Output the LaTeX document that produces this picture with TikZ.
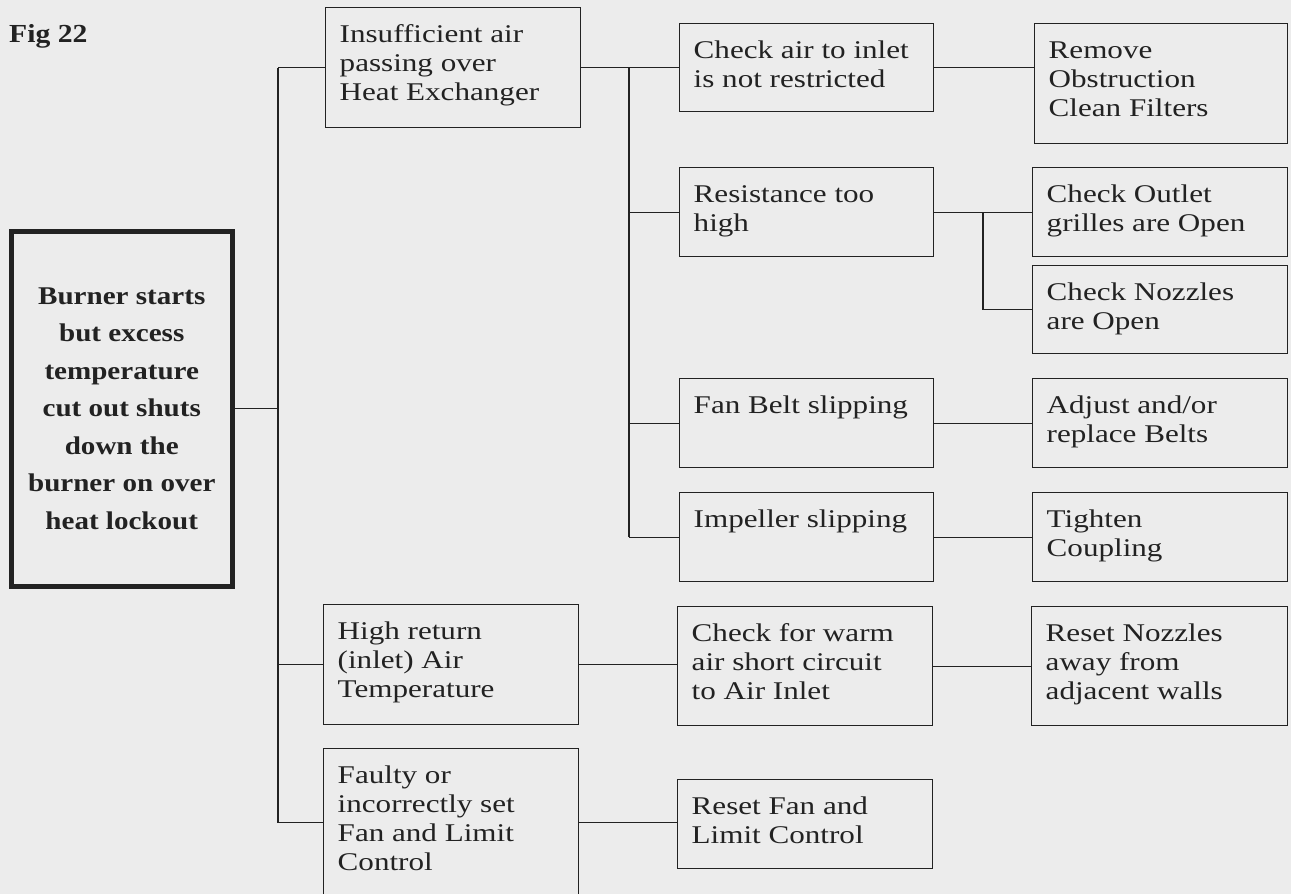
\documentclass[tikz,border=0pt]{standalone}
\usepackage{fontspec}
\setmainfont{Liberation Serif}[FakeStretch=1.22, BoldFeatures={FakeStretch=1.14}]
\definecolor{bg}{RGB}{236,236,236}
\definecolor{ink}{RGB}{34,34,34}
\newcommand\cell[3]{\parbox[c][#2][t]{#1}{\raggedright\leftskip=14pt\relax\fontsize{25.5}{29}\selectfont\vspace*{14.5pt}\strut #3\par}}
\begin{document}
\begin{tikzpicture}[x=1pt,y=-1pt,
  box/.style={draw=ink, line width=1.4pt, anchor=north west, inner sep=0pt, text=ink},
  conn/.style={draw=ink, line width=1.2pt}]
\useasboundingbox (0,0) rectangle (1291,894);
\fill[bg] (0,0) rectangle (1291,894);
\clip (0,0) rectangle (1291,894);
\node[anchor=base west, inner sep=0pt, text=ink, font=\fontsize{26}{29}\selectfont\bfseries] (fig) at (9,42) {Fig 22};
\node[box, line width=4.5pt] (main) at (9,229) {\parbox[c][355pt][c]{221pt}{\centering\fontsize{25.5}{37.5}\selectfont\bfseries Burner starts\\ but excess\\ temperature\\ cut out shuts\\ down the\\ burner on over\\ heat lockout}};
% level 1
\node[box] (ins) at (325,7) {\cell{255pt}{120pt}{Insufficient air\\passing over\\Heat Exchanger}};
\node[box] (hr) at (323,604) {\cell{255pt}{120pt}{High return\\(inlet) Air\\Temperature}};
\node[box] (fa) at (323,748) {\cell{255pt}{148pt}{Faulty or\\incorrectly set\\Fan and Limit\\Control}};
% level 2
\node[box] (ca) at (679,23) {\cell{254pt}{88pt}{Check air to inlet\\is not restricted}};
\node[box] (rs) at (679,167) {\cell{254pt}{89pt}{Resistance too\\high}};
\node[box] (fb) at (679,378) {\cell{254pt}{89pt}{Fan Belt slipping}};
\node[box] (ip) at (679,492) {\cell{254pt}{89pt}{Impeller slipping}};
\node[box] (cw) at (677,606) {\cell{255pt}{119pt}{Check for warm\\air short circuit\\to Air Inlet}};
\node[box] (rf) at (677,779) {\cell{255pt}{89pt}{Reset Fan and\\Limit Control}};
% level 3
\node[box] (ro) at (1034,23) {\cell{253pt}{120pt}{Remove\\Obstruction\\Clean Filters}};
\node[box] (co) at (1032,167) {\cell{255pt}{89pt}{Check Outlet\\grilles are Open}};
\node[box] (cn) at (1032,265) {\cell{255pt}{88pt}{Check Nozzles\\are Open}};
\node[box] (ab) at (1032,378) {\cell{255pt}{89pt}{Adjust and/or\\replace Belts}};
\node[box] (tc) at (1032,492) {\cell{255pt}{89pt}{Tighten\\Coupling}};
\node[box] (rn) at (1031,606) {\cell{256pt}{119pt}{Reset Nozzles\\away from\\adjacent walls}};
% trunks
\coordinate (tk) at (278,0);
\coordinate (tk2) at (629,0);
\coordinate (tk3) at (983,0);
\draw[conn] (main.east) -- (main.east -| tk);
\draw[conn] (ins.west -| tk) -- (fa.west -| tk);
\draw[conn] (ins.west -| tk) -- (ins.west);
\draw[conn] (hr.west -| tk) -- (hr.west);
\draw[conn] (fa.west -| tk) -- (fa.west);
\draw[conn] (ins.east) -- (ins.east -| ca.west);
\draw[conn] (ins.east -| tk2) -- (ip.west -| tk2);
\draw[conn] (rs.west -| tk2) -- (rs.west);
\draw[conn] (fb.west -| tk2) -- (fb.west);
\draw[conn] (ip.west -| tk2) -- (ip.west);
\draw[conn] (ca.east) -- (ca.east -| ro.west);
\draw[conn] (rs.east) -- (rs.east -| co.west);
\draw[conn] (co.west -| tk3) -- (cn.west -| tk3) -- (cn.west);
\draw[conn] (fb.east) -- (fb.east -| ab.west);
\draw[conn] (ip.east) -- (ip.east -| tc.west);
\draw[conn] (hr.east) -- (hr.east -| cw.west);
\draw[conn] (cw.east) -- (cw.east -| rn.west);
\draw[conn] (fa.east) -- (fa.east -| rf.west);
\end{tikzpicture}
\end{document}
